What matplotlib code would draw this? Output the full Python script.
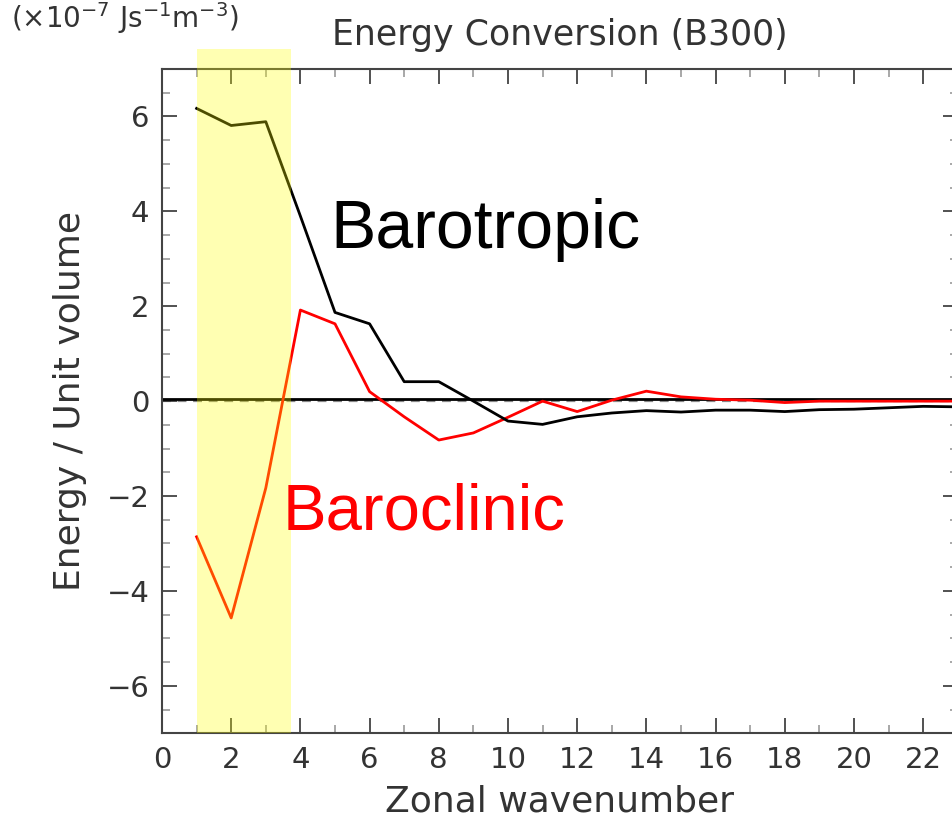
#!/usr/bin/env python3

import numpy as np
import matplotlib
matplotlib.use('Agg')
import matplotlib.pyplot as plt
from matplotlib.ticker import MultipleLocator

# zonal wavenumbers and energy conversion (x1e-7 J s-1 m-3)
wavenumber = np.arange(1, 24)
barotropic = [6.17, 5.81, 5.89, 3.90, 1.87, 1.63, 0.41, 0.41, 0.00, -0.42,
              -0.49, -0.33, -0.25, -0.20, -0.23, -0.19, -0.19, -0.22, -0.18,
              -0.17, -0.14, -0.11, -0.12]
baroclinic = [-2.86, -4.57, -1.83, 1.92, 1.63, 0.20, -0.33, -0.82, -0.67, -0.34,
              0.00, -0.22, 0.02, 0.21, 0.09, 0.04, 0.02, -0.03, 0.00, 0.00,
              0.00, 0.00, 0.00]
band = (1.0, 3.73)

fg = '#333333'


def main():
    fig = plt.figure(figsize=(9.53, 8.22), dpi=100)
    ax = fig.add_axes([0.170, 0.108, 0.835, 0.808])

    ax.axhline(0.0, color='#888888', lw=1.6, ls=(0, (4, 3)), zorder=1)
    ax.axhline(0.04, color='black', lw=2.0, zorder=2)

    ax.plot(wavenumber, baroclinic, color='red', lw=2.0, zorder=3)
    ax.plot(wavenumber, barotropic, color='black', lw=2.0, zorder=3)

    # highlighted low wavenumbers, drawn over the lines and up past the frame
    ax.fill_between(band, -7, 7.42, color='yellow', alpha=0.3, lw=0,
                    zorder=4, clip_on=False)

    ax.set_xlim(0, 23)
    ax.set_ylim(-7, 7)

    ax.xaxis.set_major_locator(MultipleLocator(2))
    ax.xaxis.set_minor_locator(MultipleLocator(1))
    ax.yaxis.set_major_locator(MultipleLocator(2))
    ax.yaxis.set_minor_locator(MultipleLocator(0.5))
    ax.tick_params(which='both', direction='in', top=True, right=True,
                   width=1.2, labelsize=21, labelcolor=fg, pad=9)
    ax.tick_params(which='major', length=11, color='#333333')
    ax.tick_params(which='minor', length=5.5, color='#999999')
    ax.set_yticks([-6, -4, -2, 0, 2, 4, 6])
    ax.set_yticklabels(['\u22126', '\u22124', '\u22122', '0', '2', '4', '6'])
    for s in ax.spines.values():
        s.set_color('#444444')
        s.set_linewidth(1.5)

    ax.set_xlabel('Zonal wavenumber', fontsize=26, color=fg, labelpad=8)
    ax.set_ylabel('Energy / Unit volume', fontsize=26, color=fg, labelpad=14)
    ax.set_title('Energy Conversion (B300)', fontsize=25, color=fg, pad=17)
    fig.text(0.012, 0.978, r'$(\times10^{-7}\ \mathrm{Js^{-1}m^{-3}})$',
             fontsize=20, color=fg, ha='left', va='center')

    ax.text(4.86, 3.6, 'Barotropic', fontsize=49, family='Liberation Sans',
            color='black', ha='left', va='center', zorder=5)
    ax.text(3.5, -2.35, 'Baroclinic', fontsize=47, family='Liberation Sans',
            color='red', ha='left', va='center', zorder=5)

    fig.savefig('out.png', dpi=100)


if __name__ == '__main__':
    main()
